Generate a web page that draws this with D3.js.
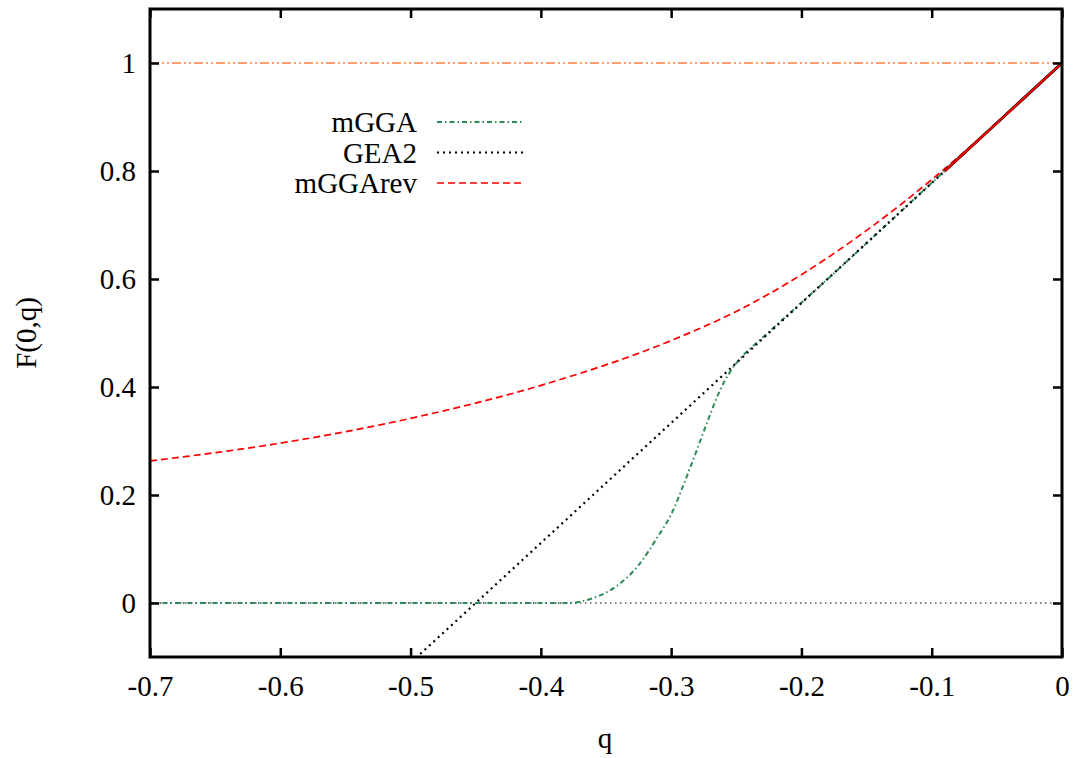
<!DOCTYPE html>
<html>
<head>
<meta charset="utf-8">
<script src="https://cdn.jsdelivr.net/npm/d3@7"></script>
<style>
  body { margin: 0; background: #fff; }
</style>
</head>
<body>
<svg id="chart" width="1081" height="758"></svg>
<script>
// values
const mggaQ = [-0.7, -0.38, -0.36, -0.342, -0.325, -0.311, -0.2996, -0.29, -0.28, -0.2715, -0.2625, -0.2548, -0.2446, -0.2318, -0.219, -0.2, -0.1, 0]
const mggaF = [0, 0, 0.009, 0.031, 0.07, 0.12, 0.166, 0.222, 0.285, 0.340, 0.394, 0.428, 0.459, 0.487, 0.515, 0.556, 0.778, 1]

const gea2Q = [-0.496, -0.45, 0]
const gea2F = [-0.102, 0, 1]

const revQ = [-0.7, -0.6, -0.5, -0.4, -0.3, -0.25, -0.2, -0.15, -0.1, -0.05, 0]
const revF = [0.263, 0.296, 0.342, 0.403, 0.486, 0.540, 0.608, 0.690, 0.784, 0.889, 1]

// solid segment near q = 0 (red over black)
const solidQ = [-0.09, -0.045, 0]
const solidF = [0.800, 0.900, 1]

const xTicks = [-0.7, -0.6, -0.5, -0.4, -0.3, -0.2, -0.1, 0]
const yTicks = [0, 0.2, 0.4, 0.6, 0.8, 1]

const legendNames = ["mGGA", "GEA2", "mGGArev"]

const pLeft = 150, pRight = 1062, pTop = 9, pBottom = 657
const serif = "'Liberation Serif', Tinos, 'Times New Roman', Times, 'Nimbus Roman', 'Nimbus Roman No9 L', FreeSerif, 'Noto Serif', 'DejaVu Serif', serif"

const x = d3.scaleLinear().domain([-0.7, 0]).range([pLeft, pRight])
const y = d3.scaleLinear().domain([-0.1, 1.1]).range([pBottom, pTop])

const svg = d3.select("#chart").style("font-family", serif)

svg.append("defs").append("clipPath").attr("id", "plotclip")
  .append("rect").attr("x", pLeft).attr("y", pTop).attr("width", pRight - pLeft).attr("height", pBottom - pTop)

const line = d3.line().x(d => x(d[0])).y(d => y(d[1]))
const smooth = d3.line().x(d => x(d[0])).y(d => y(d[1])).curve(d3.curveMonotoneX)
const zip = (a, b) => a.map((v, i) => [v, b[i]])

const plot = svg.append("g").attr("clip-path", "url(#plotclip)")

// reference lines F = 0 and F = 1
plot.append("path").attr("d", line([[-0.7, 0], [0, 0]]))
  .attr("fill", "none").attr("stroke", "#000").attr("stroke-width", 1)
  .attr("stroke-dasharray", "1.5,3.5")
plot.append("path").attr("d", line([[-0.7, 1], [0, 1]]))
  .attr("fill", "none").attr("stroke", "#ff8040").attr("stroke-width", 1.5)
  .attr("stroke-dasharray", "9,3,2,3,2,3")

const styles = {
  mGGA: { color: "#2e8b57", dash: "5,3,1.5,3", width: 2 },
  GEA2: { color: "#000", dash: "2,4", width: 2.2 },
  mGGArev: { color: "#ff0000", dash: "7,4", width: 1.7 }
}
const series = {
  mGGA: zip(mggaQ, mggaF),
  GEA2: zip(gea2Q, gea2F),
  mGGArev: zip(revQ, revF)
}

plot.append("path").attr("d", smooth(series.mGGArev))
  .attr("fill", "none").attr("stroke", styles.mGGArev.color)
  .attr("stroke-width", styles.mGGArev.width).attr("stroke-dasharray", styles.mGGArev.dash)
plot.append("path").attr("d", smooth(series.mGGA))
  .attr("fill", "none").attr("stroke", styles.mGGA.color)
  .attr("stroke-width", styles.mGGA.width).attr("stroke-dasharray", styles.mGGA.dash)
plot.append("path").attr("d", line(series.GEA2))
  .attr("fill", "none").attr("stroke", styles.GEA2.color)
  .attr("stroke-width", styles.GEA2.width).attr("stroke-dasharray", styles.GEA2.dash)

const solid = zip(solidQ, solidF)
plot.append("path").attr("d", line(solid))
  .attr("fill", "none").attr("stroke", "#000").attr("stroke-width", 3)
plot.append("path").attr("d", line(solid))
  .attr("fill", "none").attr("stroke", "#ff0000").attr("stroke-width", 2)

// axes, ticks inward and mirrored
const tickLen = 9
const fmt = d => d === 0 ? "0" : String(d)
svg.append("g").attr("transform", `translate(0,${pBottom})`)
  .call(d3.axisBottom(x).tickValues(xTicks).tickSize(-tickLen).tickPadding(18).tickFormat(fmt))
svg.append("g").attr("transform", `translate(0,${pTop})`)
  .call(d3.axisTop(x).tickValues(xTicks).tickSize(-tickLen).tickFormat(""))
svg.append("g").attr("transform", `translate(${pLeft},0)`)
  .call(d3.axisLeft(y).tickValues(yTicks).tickSize(-tickLen).tickPadding(14).tickFormat(fmt))
svg.append("g").attr("transform", `translate(${pRight},0)`)
  .call(d3.axisRight(y).tickValues(yTicks).tickSize(-tickLen).tickFormat(""))

svg.selectAll(".domain").remove()
svg.selectAll("g").attr("font-family", null).attr("font-size", null)
svg.selectAll(".tick line").attr("stroke", "#000").attr("stroke-width", 2.5)
svg.selectAll(".tick text").style("font-size", "29px").style("font-family", serif).attr("fill", "#000")

svg.append("rect").attr("x", pLeft).attr("y", pTop).attr("width", pRight - pLeft).attr("height", pBottom - pTop)
  .attr("fill", "none").attr("stroke", "#000").attr("stroke-width", 3)

// axis titles
svg.append("text").attr("x", 605).attr("y", 748).attr("text-anchor", "middle")
  .style("font-size", "29px").style("font-family", serif).text("q")
svg.append("text").attr("transform", `translate(36,${(pTop + pBottom) / 2}) rotate(-90)`)
  .attr("text-anchor", "middle").style("font-size", "29px").style("font-family", serif).text("F(0,q)")

// legend
const legend = svg.append("g")
legendNames.forEach((name, i) => {
  const ly = 122 + i * 30.5
  legend.append("text").attr("x", 417).attr("y", ly).attr("dy", "0.35em")
    .attr("text-anchor", "end").style("font-size", "29px").style("font-family", serif).text(name)
  legend.append("line").attr("x1", 437).attr("x2", 523).attr("y1", ly).attr("y2", ly)
    .attr("stroke", styles[name].color).attr("stroke-width", styles[name].width)
    .attr("stroke-dasharray", styles[name].dash)
})
</script>
</body>
</html>
